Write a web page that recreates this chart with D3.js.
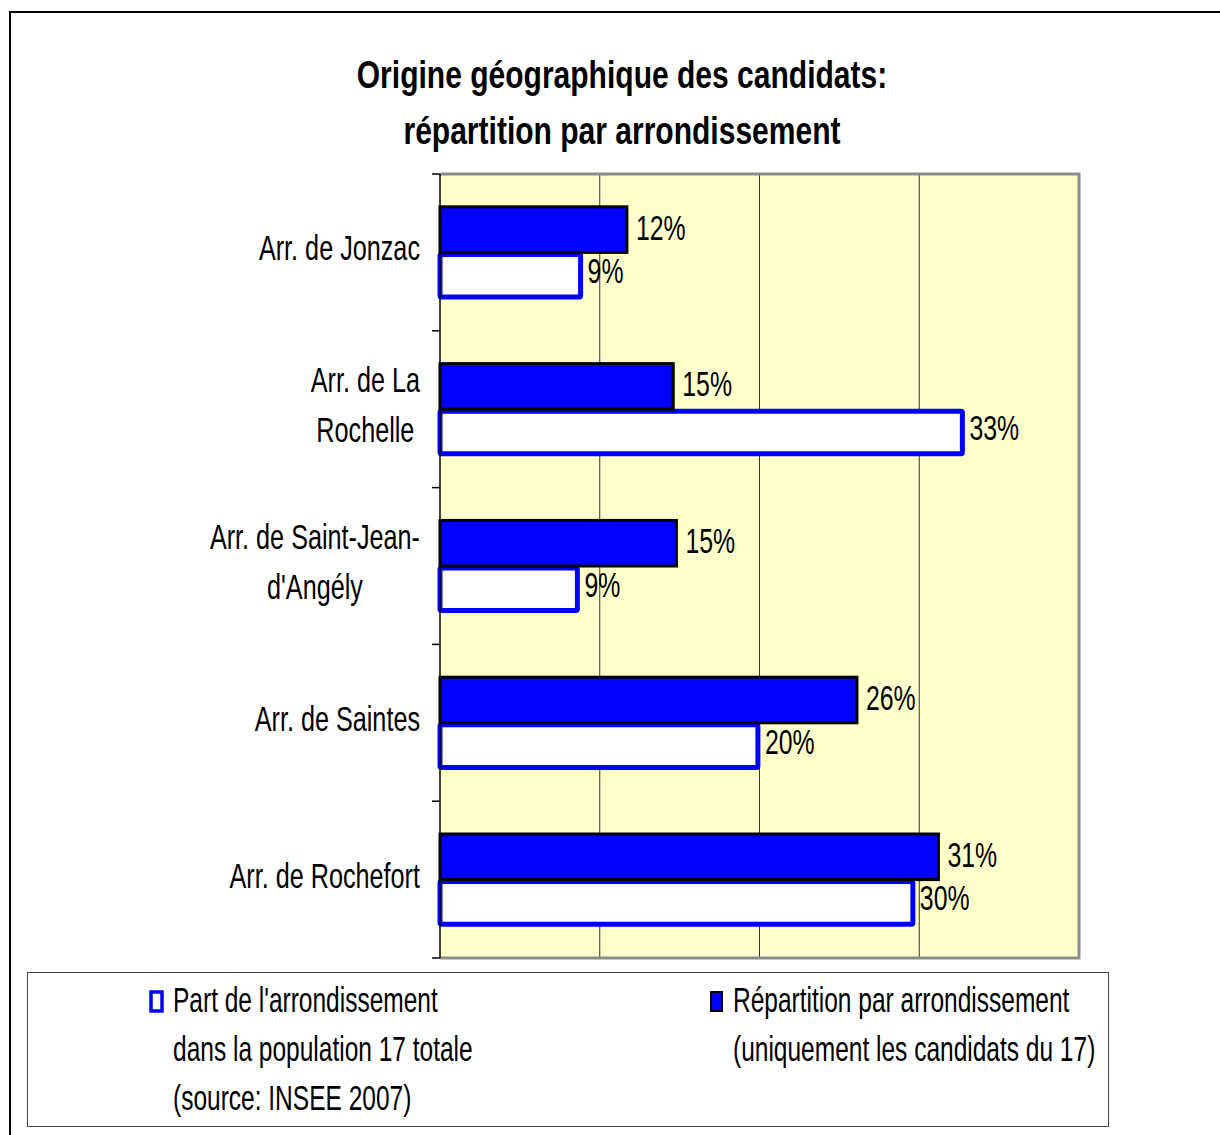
<!DOCTYPE html>
<html>
<head>
<meta charset="utf-8">
<script src="https://cdn.jsdelivr.net/npm/d3@7/dist/d3.min.js"></script>
<style>
  body { margin: 0; background: #fff; }
  svg { display: block; }
  text { font-family: "Liberation Sans Narrow", "Arial Narrow", "Liberation Sans", Arial, sans-serif; fill: #000; }
</style>
</head>
<body>
<div id="chart"></div>
<script>
'use strict';

// categories, top to bottom
var categories = [
  ['Arr. de Jonzac'],
  ['Arr. de La', 'Rochelle'],
  ['Arr. de Saint-Jean-', "d'Angély"],
  ['Arr. de Saintes'],
  ['Arr. de Rochefort']
];

// Répartition par arrondissement (candidats du 17), in %
var candidats = [11.7, 14.6, 14.8, 26.1, 31.2];
// Part de l'arrondissement dans la population 17 totale, in %
var population = [8.8, 32.7, 8.6, 19.9, 29.6];

var xTicks = [0, 10, 20, 30, 40];
var seriesNames = ['candidats', 'population'];

var titleLines = ['Origine géographique des candidats:', 'répartition par arrondissement'];
var legendPopulation = ["Part de l'arrondissement", 'dans la population 17 totale', '(source: INSEE 2007)'];
var legendCandidats = ['Répartition par arrondissement', '(uniquement les candidats du 17)'];

var W = 1220, H = 1135;
var plot = { left: 440, top: 174, right: 1079, bottom: 958 };

// the original uses a tall condensed face; squeeze the regular one to match
function narrow(sel, f) {
  sel.each(function () {
    var w = this.getComputedTextLength();
    d3.select(this)
      .attr('textLength', w * f)
      .attr('lengthAdjust', 'spacingAndGlyphs');
  });
}

var svg = d3.select('#chart').append('svg')
  .attr('width', W)
  .attr('height', H);

// outer frame
svg.append('rect')
  .attr('x', 10).attr('y', 12)
  .attr('width', W + 20).attr('height', H + 20)
  .attr('fill', '#fff')
  .attr('stroke', '#000')
  .attr('stroke-width', 2);

// title
var title = svg.append('g').selectAll('text')
  .data(titleLines)
  .enter()
  .append('text')
  .attr('x', 622)
  .attr('y', function (d, i) { return 88 + i * 56; })
  .attr('text-anchor', 'middle')
  .attr('font-size', 38)
  .attr('font-weight', 'bold')
  .text(function (d) { return d; });
narrow(title, 0.79);

var x = d3.scaleLinear()
  .domain([0, 40])
  .range([plot.left, plot.right]);

var y0 = d3.scaleBand()
  .domain(d3.range(categories.length))
  .range([plot.top, plot.bottom]);

var y1 = d3.scaleBand()
  .domain(seriesNames)
  .range([0, y0.bandwidth()])
  .paddingOuter(0.72);

// plot background
svg.append('rect')
  .attr('x', plot.left).attr('y', plot.top)
  .attr('width', plot.right - plot.left)
  .attr('height', plot.bottom - plot.top)
  .attr('fill', '#ffffcc');

// vertical gridlines
svg.append('g').selectAll('line')
  .data(xTicks.slice(1, -1))
  .enter()
  .append('line')
  .attr('x1', function (d) { return x(d); })
  .attr('x2', function (d) { return x(d); })
  .attr('y1', plot.top)
  .attr('y2', plot.bottom)
  .attr('stroke', '#333')
  .attr('stroke-width', 1);

// plot border (grey, top / right / bottom)
svg.append('path')
  .attr('d', 'M' + plot.left + ',' + plot.top + 'H' + plot.right + 'V' + plot.bottom + 'H' + plot.left)
  .attr('fill', 'none')
  .attr('stroke', '#8c8c8c')
  .attr('stroke-width', 3);

var rows = svg.append('g').selectAll('g')
  .data(categories)
  .enter()
  .append('g')
  .attr('transform', function (d, i) { return 'translate(0,' + y0(i) + ')'; });

// population bars (white, blue outline)
rows.append('rect')
  .attr('x', x(0))
  .attr('y', y1('population') + 2)
  .attr('width', function (d, i) { return x(population[i]) - x(0); })
  .attr('height', y1.bandwidth() - 3)
  .attr('rx', 1.5)
  .attr('fill', '#fff')
  .attr('stroke', '#0000ff')
  .attr('stroke-width', 5);

// candidats bars (blue, black outline)
rows.append('rect')
  .attr('x', x(0))
  .attr('y', y1('candidats'))
  .attr('width', function (d, i) { return x(candidats[i]) - x(0); })
  .attr('height', y1.bandwidth())
  .attr('fill', '#0000ff')
  .attr('stroke', '#000')
  .attr('stroke-width', 3);

var fmt = function (v) { return d3.format('.0f')(v) + '%'; };

var lblC = rows.append('text')
  .attr('x', function (d, i) { return x(candidats[i]) + 9; })
  .attr('y', y1('candidats') + y1.bandwidth() / 2 + 10)
  .attr('font-size', 35)
  .text(function (d, i) { return fmt(candidats[i]); });
narrow(lblC, 0.71);

var lblP = rows.append('text')
  .attr('x', function (d, i) { return x(population[i]) + 7; })
  .attr('y', y1('population') + y1.bandwidth() / 2 + 8)
  .attr('font-size', 35)
  .text(function (d, i) { return fmt(population[i]); });
narrow(lblP, 0.71);

// left axis with category ticks
var axis = svg.append('g');
axis.append('line')
  .attr('x1', plot.left).attr('x2', plot.left)
  .attr('y1', plot.top).attr('y2', plot.bottom)
  .attr('stroke', '#000')
  .attr('stroke-width', 1.5);
axis.selectAll('line.tick')
  .data(d3.range(categories.length + 1))
  .enter()
  .append('line')
  .attr('class', 'tick')
  .attr('x1', plot.left - 8).attr('x2', plot.left)
  .attr('y1', function (d) { return plot.top + d * y0.step(); })
  .attr('y2', function (d) { return plot.top + d * y0.step(); })
  .attr('stroke', '#000')
  .attr('stroke-width', 1.5);

// category labels: block right-aligned, lines centred inside the block
rows.each(function (lines) {
  var g = d3.select(this);
  var cy = y0.bandwidth() / 2;
  var lh = 50;
  var f = 0.72;
  var t = g.selectAll('text.cat')
    .data(lines)
    .enter()
    .append('text')
    .attr('class', 'cat')
    .attr('font-size', 35)
    .attr('text-anchor', 'middle')
    .attr('y', function (d, i) { return cy - (lines.length - 1) * lh / 2 + i * lh + 8; })
    .text(function (d) { return d; });
  var maxW = 0;
  t.each(function () { maxW = Math.max(maxW, this.getComputedTextLength() * f); });
  narrow(t, f);
  t.attr('x', 420 - maxW / 2);
});

// legend
var legend = svg.append('g');
legend.append('rect')
  .attr('x', 27.5).attr('y', 972.5)
  .attr('width', 1081).attr('height', 154)
  .attr('fill', '#fff')
  .attr('stroke', '#444')
  .attr('stroke-width', 1);

function legendItem(lx, lines, fill, stroke, sw) {
  var g = legend.append('g');
  g.append('rect')
    .attr('x', lx - 22).attr('y', 992)
    .attr('width', 11).attr('height', 19)
    .attr('fill', fill)
    .attr('stroke', stroke)
    .attr('stroke-width', sw);
  var t = g.selectAll('text')
    .data(lines)
    .enter()
    .append('text')
    .attr('x', lx)
    .attr('y', function (d, i) { return 1012 + i * 49; })
    .attr('font-size', 35)
    .text(function (d) { return d; });
  narrow(t, 0.7);
}

legendItem(173, legendPopulation, '#fff', '#0000ff', 3.5);
legendItem(733, legendCandidats, '#0000ff', '#000', 2);
</script>
</body>
</html>
